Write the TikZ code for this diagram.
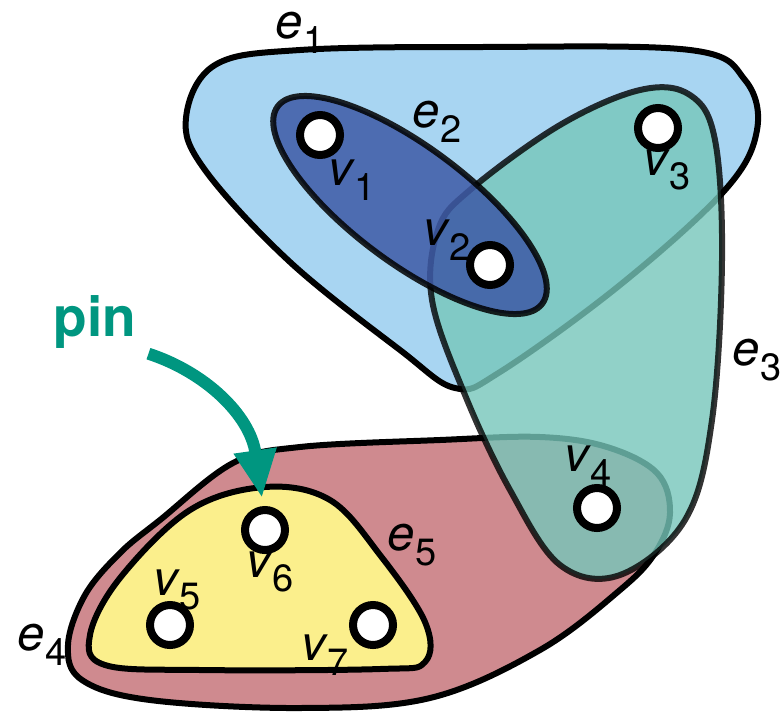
\documentclass[tikz,border=0pt]{standalone}
\usepackage{fontspec}
\setmainfont{TeX Gyre Heros}
\usepackage{tikz}
\usetikzlibrary{arrows.meta}

\definecolor{eone}{RGB}{168,213,242}
\definecolor{etwo}{RGB}{62,90,166}
\definecolor{ethree}{RGB}{118,198,186}
\definecolor{efour}{RGB}{207,138,143}
\definecolor{efive}{RGB}{251,239,140}
\definecolor{pincol}{RGB}{0,150,128}

\newcommand{\lab}[2]{\textit{#1}\raisebox{-0.3em}{\fontsize{38}{40}\selectfont #2}}

\begin{document}
\begin{tikzpicture}[x=1pt, y=-1pt, >=Stealth,
    hedge/.style={draw=black, line width=6pt, line join=round},
    vert/.style={circle, draw=black, fill=white, line width=8pt, minimum size=40pt, inner sep=0pt},
    lbl/.style={inner sep=0pt, font=\fontsize{49}{54}\selectfont}]
    \useasboundingbox (0,0) rectangle (781,715);

    % hyperedges
    \draw[hedge, fill=eone] plot[smooth cycle, tension=0.6] coordinates {(186,118) (215,65) (300,50) (480,47) (690,50) (745,80) (757,130) (725,190) (620,285) (500,372) (455,388) (400,350) (290,262) (205,170)};
    \draw[hedge, fill=efour] plot[smooth cycle, tension=0.6] coordinates {(160,520) (233,463) (300,447) (440,440) (540,437) (607,447) (657,473) (670,513) (655,553) (620,590) (540,650) (430,698) (300,708) (150,700) (82,680) (68,645) (85,595) (120,553)};
    \draw[hedge, fill=ethree, opacity=0.8] plot[smooth cycle, tension=0.6] coordinates {(470,190) (560,125) (640,90) (690,95) (715,140) (722,260) (712,420) (685,520) (620,575) (560,565) (510,490) (465,395) (432,300) (438,230)};
    \draw[hedge, fill=etwo, opacity=0.85, shift={(410,205)}, rotate=-36.7] (0,0) ellipse (165 and 58);
    \draw[hedge, fill=efive] plot[smooth cycle, tension=0.6] coordinates {(265,487) (330,500) (380,555) (425,622) (425,662) (380,669) (200,670) (105,665) (90,635) (120,578) (190,510)};

    % vertices
    \node[vert] (v1) at (320,135) {};
    \node[vert] (v2) at (490,265) {};
    \node[vert] (v3) at (658,128) {};
    \node[vert] (v4) at (597,508) {};
    \node[vert] (v5) at (170,625) {};
    \node[vert] (v6) at (265,530) {};
    \node[vert] (v7) at (373,625) {};

    % labels
    \node[lbl] (le1) at (300,33) {\lab{e}{1}};
    \node[lbl] (le2) at (437,122) {\lab{e}{2}};
    \node[lbl] (le3) at (757,360) {\lab{e}{3}};
    \node[lbl] (le4) at (42,645) {\lab{e}{4}};
    \node[lbl] (le5) at (412,545) {\lab{e}{5}};
    \node[lbl] (lv1) at (352,180) {\lab{v}{1}};
    \node[lbl] (lv2) at (447,240) {\lab{v}{2}};
    \node[lbl] (lv3) at (667,170) {\lab{v}{3}};
    \node[lbl] (lv4) at (588,466) {\lab{v}{4}};
    \node[lbl] (lv5) at (177,590) {\lab{v}{5}};
    \node[lbl] (lv6) at (270,572) {\lab{v}{6}};
    \node[lbl] (lv7) at (325,655) {\lab{v}{7}};

    % pin
    \node[inner sep=0pt, text=pincol, font=\fontsize{55}{60}\selectfont\bfseries] (pin) at (95,322) {pin};
    \coordinate (pintip) at (262,498);
    \draw[pincol, line width=12pt, -{Triangle[length=48pt, width=40pt]}]
        ([xshift=12pt, yshift=-5pt]pin.south east) .. controls (205,372) and (250,415) .. (pintip);
\end{tikzpicture}
\end{document}
